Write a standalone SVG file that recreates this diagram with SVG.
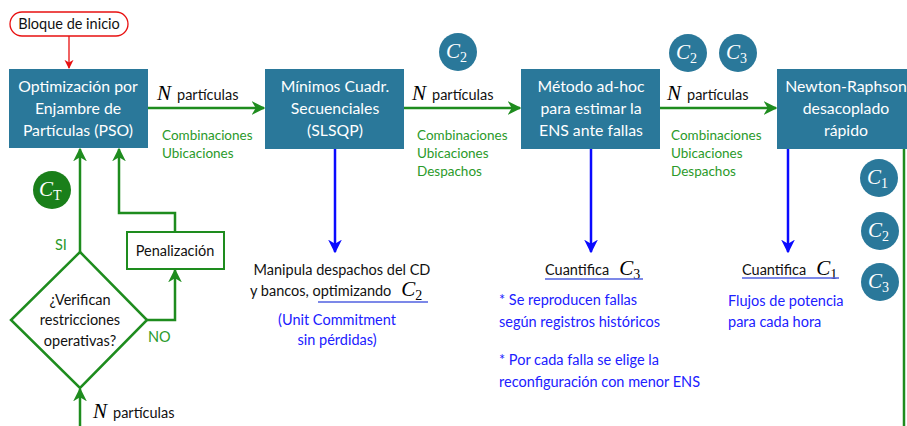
<svg xmlns="http://www.w3.org/2000/svg" width="907" height="426" viewBox="0 0 907 426">
<style>
.box{fill:#2a789a}
.bt{font-family:Lato,"Open Sans",sans-serif;font-size:15.8px;fill:#fff;text-anchor:middle}
.t{font-family:Lato,"Open Sans",sans-serif;font-size:14.5px;fill:#111}
.g{font-family:Lato,"Open Sans",sans-serif;font-size:13.5px;fill:#2a9a2a}
.b{font-family:Lato,"Open Sans",sans-serif;font-size:14.5px;fill:#2020ff}
.m{font-family:"Liberation Serif","DejaVu Serif",serif;font-style:italic;font-size:21px}
.sub{font-family:"Liberation Serif","DejaVu Serif",serif;font-style:normal;font-size:14px}
.gl{stroke:#1e8c1e;stroke-width:2.5;fill:none}
.bl{stroke:#0a0aff;stroke-width:2.5;fill:none}
.cb{fill:#2a789a}
.cw{fill:#fff}
</style>
<defs>
<marker id="ag" viewBox="0 0 10 10" refX="9" refY="5" markerWidth="5.5" markerHeight="5.5" orient="auto" markerUnits="strokeWidth"><path d="M0,0 L10,5 L0,10 L3,5 z" fill="#1e8c1e"/></marker>
<marker id="ab" viewBox="0 0 10 10" refX="9" refY="5" markerWidth="5.5" markerHeight="5.5" orient="auto" markerUnits="strokeWidth"><path d="M0,0 L10,5 L0,10 L3,5 z" fill="#0a0aff"/></marker>
<marker id="ar" viewBox="0 0 10 10" refX="9" refY="5" markerWidth="7" markerHeight="7" orient="auto" markerUnits="strokeWidth"><path d="M0,0 L10,5 L0,10 L3,5 z" fill="#e81010"/></marker>
</defs>

<g id="connectors">
<line x1="69" y1="36" x2="69" y2="68" stroke="#e81010" stroke-width="1.3" marker-end="url(#ar)"/>
<line class="gl" x1="148" y1="108" x2="264" y2="108" marker-end="url(#ag)"/>
<line class="gl" x1="404" y1="108" x2="520" y2="108" marker-end="url(#ag)"/>
<line class="gl" x1="660" y1="108" x2="776" y2="108" marker-end="url(#ag)"/>
<line class="bl" x1="335" y1="149" x2="335" y2="252" marker-end="url(#ab)"/>
<line class="bl" x1="591" y1="149" x2="591" y2="252" marker-end="url(#ab)"/>
<line class="bl" x1="788" y1="149" x2="788" y2="252" marker-end="url(#ab)"/>
<line class="gl" x1="904" y1="149" x2="904" y2="426"/>
<line class="gl" x1="80" y1="252" x2="80" y2="149" marker-end="url(#ag)"/>
<polyline class="gl" points="175,232 175,213 119,213 119,149" marker-end="url(#ag)"/>
<polyline class="gl" points="147,320 175,320 175,270" marker-end="url(#ag)"/>
<line class="gl" x1="80" y1="426" x2="80" y2="389" marker-end="url(#ag)"/>
</g>

<g id="start">
<rect x="10" y="12" width="118" height="24" rx="12" fill="#fff" stroke="#e81010" stroke-width="1.3"/>
<text class="t" x="69" y="29" text-anchor="middle">Bloque de inicio</text>
</g>

<g id="pso">
<rect class="box" x="9" y="69" width="139" height="79"/>
<text class="bt" x="78" y="92">Optimización por</text>
<text class="bt" x="78" y="114">Enjambre de</text>
<text class="bt" x="78" y="136">Partículas (PSO)</text>
</g>

<g id="slsqp">
<rect class="box" x="265" y="69" width="139" height="80"/>
<text class="bt" x="335" y="92">Mínimos Cuadr.</text>
<text class="bt" x="335" y="114">Secuenciales</text>
<text class="bt" x="335" y="136">(SLSQP)</text>
</g>

<g id="adhoc">
<rect class="box" x="521" y="69" width="139" height="80"/>
<text class="bt" x="591" y="92">Método ad-hoc</text>
<text class="bt" x="591" y="114">para estimar la</text>
<text class="bt" x="591" y="136">ENS ante fallas</text>
</g>

<g id="nr">
<rect class="box" x="777" y="69" width="140" height="80"/>
<text class="bt" x="846" y="92">Newton-Raphson</text>
<text class="bt" x="846" y="114">desacoplado</text>
<text class="bt" x="846" y="136">rápido</text>
</g>

<g id="labels1">
<text x="157" y="100"><tspan class="m">N</tspan><tspan class="t" dx="6">partículas</tspan></text>
<text class="g" x="162" y="140">Combinaciones</text>
<text class="g" x="162" y="158">Ubicaciones</text>
</g>
<g id="labels2">
<text x="412" y="100"><tspan class="m">N</tspan><tspan class="t" dx="6">partículas</tspan></text>
<text class="g" x="417" y="140">Combinaciones</text>
<text class="g" x="417" y="158">Ubicaciones</text>
<text class="g" x="417" y="176">Despachos</text>
</g>
<g id="labels3">
<text x="667" y="100"><tspan class="m">N</tspan><tspan class="t" dx="6">partículas</tspan></text>
<text class="g" x="671" y="140">Combinaciones</text>
<text class="g" x="671" y="158">Ubicaciones</text>
<text class="g" x="671" y="176">Despachos</text>
</g>

<g id="c2top">
<circle class="cb" cx="458" cy="52" r="19"/>
<text class="cw" x="446" y="58"><tspan class="m">C</tspan><tspan class="sub" dy="4">2</tspan></text>
</g>
<g id="c2c3top">
<circle class="cb" cx="688" cy="53" r="19"/>
<text class="cw" x="676" y="59"><tspan class="m">C</tspan><tspan class="sub" dy="4">2</tspan></text>
<circle class="cb" cx="738" cy="53" r="19"/>
<text class="cw" x="726" y="59"><tspan class="m">C</tspan><tspan class="sub" dy="4">3</tspan></text>
</g>
<g id="c123right">
<circle class="cb" cx="879" cy="178" r="19"/>
<text class="cw" x="867" y="184"><tspan class="m">C</tspan><tspan class="sub" dy="4">1</tspan></text>
<circle class="cb" cx="880" cy="231" r="19"/>
<text class="cw" x="868" y="237"><tspan class="m">C</tspan><tspan class="sub" dy="4">2</tspan></text>
<circle class="cb" cx="880" cy="282" r="19"/>
<text class="cw" x="868" y="288"><tspan class="m">C</tspan><tspan class="sub" dy="4">3</tspan></text>
</g>

<g id="slsqp-out">
<text class="t" x="342" y="275" text-anchor="middle">Manipula despachos del CD</text>
<text x="250" y="296"><tspan class="t">y bancos, optimizando</tspan><tspan class="m" dx="10">C</tspan><tspan class="sub" dy="4">2</tspan></text>
<line x1="318" y1="302" x2="428" y2="302" stroke="#5060e0" stroke-width="1.3"/>
<text class="b" x="337" y="325" text-anchor="middle">(Unit Commitment</text>
<text class="b" x="337" y="345" text-anchor="middle">sin pérdidas)</text>
</g>

<g id="adhoc-out">
<text x="545" y="275"><tspan class="t">Cuantifica</tspan><tspan class="m" dx="10">C</tspan><tspan class="sub" dy="4">3</tspan></text>
<line x1="545" y1="279" x2="643" y2="279" stroke="#5060e0" stroke-width="1.3"/>
<text class="b" x="499" y="305">* Se reproducen fallas</text>
<text class="b" x="499" y="327">según registros históricos</text>
<text class="b" x="499" y="365">* Por cada falla se elige la</text>
<text class="b" x="499" y="387">reconfiguración con menor ENS</text>
</g>

<g id="nr-out">
<text x="742" y="275"><tspan class="t">Cuantifica</tspan><tspan class="m" dx="10">C</tspan><tspan class="sub" dy="4">1</tspan></text>
<line x1="742" y1="278" x2="839" y2="278" stroke="#5060e0" stroke-width="1.3"/>
<text class="b" x="728" y="306">Flujos de potencia</text>
<text class="b" x="728" y="327">para cada hora</text>
</g>

<g id="ct">
<circle cx="52" cy="190" r="19" fill="#1a7f1a"/>
<text class="cw" x="39" y="196"><tspan class="m">C</tspan><tspan class="sub" dy="4" font-style="italic">T</tspan></text>
</g>

<g id="penalizacion">
<rect x="127" y="232" width="97" height="37" fill="#fff" stroke="#1e8c1e" stroke-width="2"/>
<text class="t" x="175" y="256" text-anchor="middle">Penalización</text>
</g>

<g id="decision">
<polygon points="80,252 147,320 80,388 11,320" fill="#fff" stroke="#1e8c1e" stroke-width="2.5"/>
<text class="t" x="80" y="305" text-anchor="middle">¿Verifican</text>
<text class="t" x="80" y="325" text-anchor="middle">restricciones</text>
<text class="t" x="80" y="346" text-anchor="middle">operativas?</text>
<text class="g" x="55" y="250" style="font-size:14.5px">SI</text>
<text class="g" x="148" y="342" style="font-size:14.5px">NO</text>
</g>

<g id="labels-bottom">
<text x="93" y="418"><tspan class="m">N</tspan><tspan class="t" dx="6">partículas</tspan></text>
</g>
</svg>
